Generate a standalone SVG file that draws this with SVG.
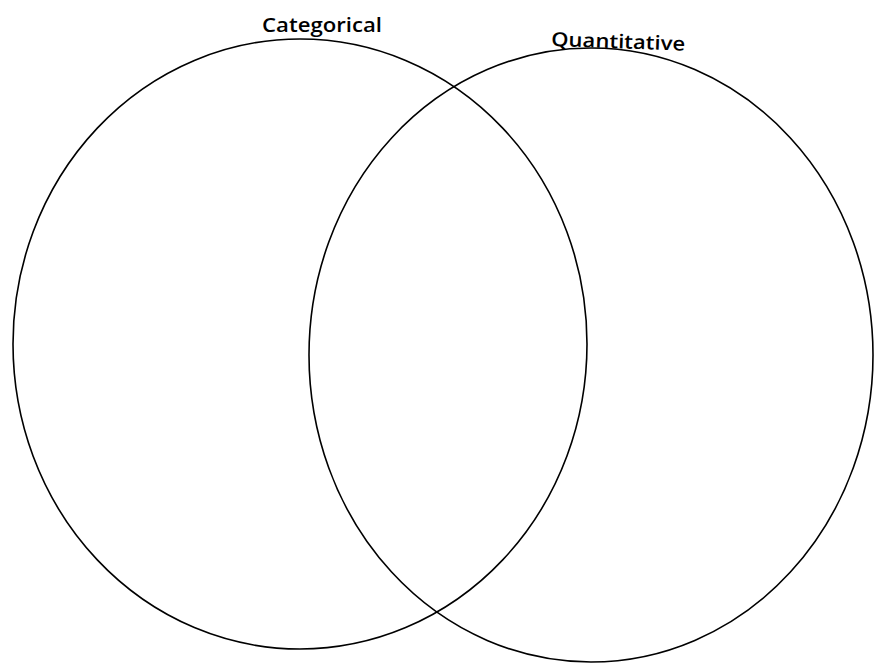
<svg xmlns="http://www.w3.org/2000/svg" width="874" height="665" viewBox="0 0 874 665">
<style>
.ring{fill:none;stroke:#000;stroke-width:1.6}
.lbl{font-family:"Open Sans","Liberation Sans",sans-serif;font-size:19.5px;font-weight:600;fill:#000}
</style>
<rect width="874" height="665" fill="#fff"/>
<g id="categorical">
<ellipse class="ring" cx="300" cy="344" rx="287" ry="305"/>
<text class="lbl" x="262" y="32" textLength="120" lengthAdjust="spacingAndGlyphs">Categorical</text>
</g>
<g id="quantitative">
<ellipse class="ring" cx="591" cy="355" rx="282" ry="307"/>
<text class="lbl" x="551" y="46" textLength="134" lengthAdjust="spacingAndGlyphs" transform="rotate(2 551 46)">Quantitative</text>
</g>
<g id="connectors"></g>
</svg>
